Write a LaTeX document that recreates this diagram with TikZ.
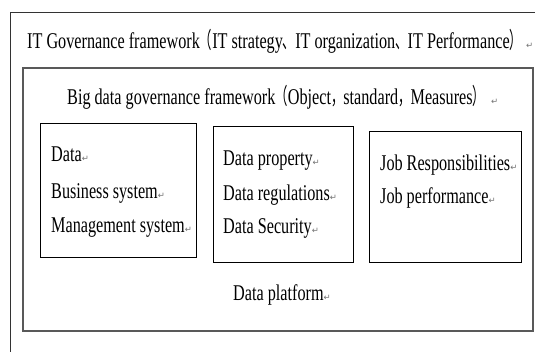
\documentclass[tikz,border=0pt]{standalone}
\usepackage{fontspec}
\setmainfont{Liberation Serif}[FakeStretch=0.72]
\newfontfamily\cjkfont{Noto Sans CJK SC}[FakeStretch=0.55]
\newfontfamily\symfont{DejaVu Sans}
\newcommand{\pmark}{{\symfont\fontsize{8.5}{9}\selectfont\textcolor{black!55}{↵}}}
\newcommand{\cj}[1]{{\cjkfont #1}}
\begin{document}
\begin{tikzpicture}[x=1pt,y=-1pt,
  txt/.style={anchor=base west,inner sep=0pt,font=\fontsize{22.5}{27}\selectfont},
  framebox/.style={draw=black,line width=0.8pt},
  innerframe/.style={draw=black!65,line width=1.3pt},
  outerframe/.style={draw=black!80,line width=0.9pt}]
\useasboundingbox (0,0) rectangle (535,351);
\clip (0,0) rectangle (535,351);
\fill[white] (0,0) rectangle (535,351);
\draw[outerframe] (10,12) rectangle (560,380);
\draw[innerframe] (23,68) rectangle (533,331);
\draw[framebox] (40,123) rectangle (196,257);
\draw[framebox] (213,126) rectangle (353,262);
\draw[framebox] (369,131) rectangle (521,262);
\node[txt] (t1) at (27,48) {IT Governance framework\cj{（}IT strategy\cj{、}IT organization\cj{、}IT Performance\cj{）}\hspace{4pt}\pmark};
\node[txt] (t2) at (67,104) {Big data governance framework\cj{（}Object\cj{，}standard\cj{，}Measures\cj{）}\hspace{6pt}\pmark};
\node[txt] (a1) at (51,161) {Data\pmark};
\node[txt] (a2) at (51,198) {Business system\pmark};
\node[txt] (a3) at (51,232) {Management system\pmark};
\node[txt] (b1) at (223,165) {Data property\pmark};
\node[txt] (b2) at (223,200) {Data regulations\pmark};
\node[txt] (b3) at (223,233) {Data Security\pmark};
\node[txt] (c1) at (380,170) {Job Responsibilities\pmark};
\node[txt] (c2) at (380,203) {Job performance\pmark};
\node[txt] (d1) at (233,300) {Data platform\pmark};
\end{tikzpicture}
\end{document}
